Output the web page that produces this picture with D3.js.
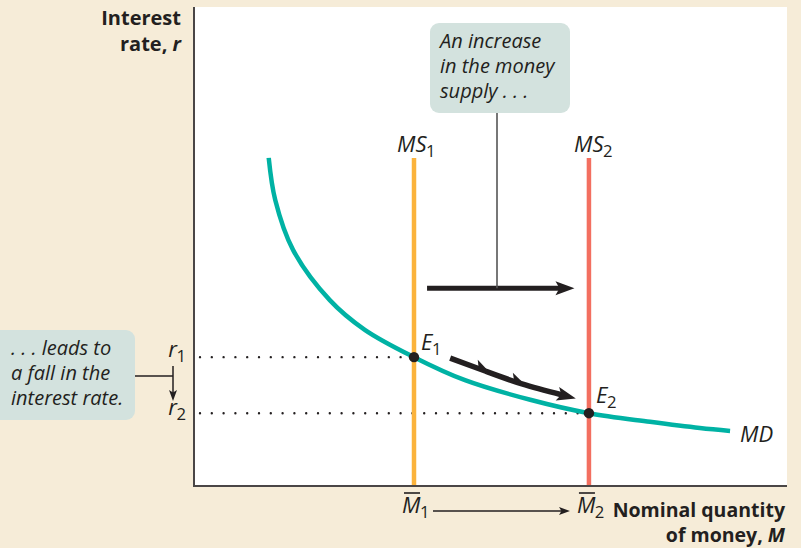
<!DOCTYPE html>
<html>
<head>
<meta charset="utf-8">
<script src="https://cdn.jsdelivr.net/npm/d3@7"></script>
<style>
  html, body { margin: 0; padding: 0; background: #f6ecd8; }
  svg { display: block; }
  text { font-family: "Open Sans", Lato, sans-serif; fill: #231f20; }
  .it { font-style: italic; }
  .bold { font-weight: bold; }
</style>
</head>
<body>
<svg id="chart" width="801" height="548"></svg>
<script>
// Money demand curve MD (nominal quantity of money, interest rate)
const mdQuantity = [1.26, 1.37, 1.67, 2.29, 2.88, 3.71, 4.57, 5.67, 6.66, 7.69, 8.53, 9.04];
const mdRate     = [6.85, 5.97, 4.93, 3.88, 3.26, 2.69, 2.21, 1.80, 1.52, 1.34, 1.21, 1.15];

// Money supply before and after the increase
const supplyNames = ["MS1", "MS2"];
const supplyQuantity = [3.71, 6.66];
const supplyTop = 6.85;

// Equilibrium interest rates
const rateNames = ["r1", "r2"];
const equilibriumRate = [2.69, 1.52];

const width = 801, height = 548;
const svg = d3.select("#chart");

const x = d3.scaleLinear().domain([0, 10]).range([194, 787]);
const y = d3.scaleLinear().domain([0, 10]).range([486, 7]);

const ink = "#231f20";
const tealBox = "#d3e2de";

// plotting panel
svg.append("rect")
  .attr("x", x(0)).attr("y", y(10))
  .attr("width", x(10) - x(0)).attr("height", y(0) - y(10))
  .attr("fill", "#ffffff");

// axes: plain lines, no ticks
svg.append("line").attr("x1", x(0)).attr("x2", x(0)).attr("y1", y(10)).attr("y2", y(0))
  .attr("stroke", "#4a4646").attr("stroke-width", 2);
svg.append("line").attr("x1", x(0) - 1).attr("x2", x(10)).attr("y1", y(0)).attr("y2", y(0))
  .attr("stroke", "#4a4646").attr("stroke-width", 2);

// arrowheads
const defs = svg.append("defs");
defs.append("marker").attr("id", "headBig")
  .attr("viewBox", "-2 -8 22 16").attr("refX", 5).attr("refY", 0)
  .attr("markerWidth", 22).attr("markerHeight", 16).attr("orient", "auto")
  .attr("markerUnits", "userSpaceOnUse")
  .append("path").attr("d", "M0,-7 L19,0 L0,7 L4,0 Z").attr("fill", ink);
defs.append("marker").attr("id", "headSmall")
  .attr("viewBox", "0 -5 12 10").attr("refX", 4).attr("refY", 0)
  .attr("markerWidth", 12).attr("markerHeight", 10).attr("orient", "auto")
  .attr("markerUnits", "userSpaceOnUse")
  .append("path").attr("d", "M0,-4 L11,0 L0,4 L2.5,0 Z").attr("fill", ink);

// dotted guides to the interest-rate axis
equilibriumRate.forEach((r, i) => {
  svg.append("line")
    .attr("x1", x(0) + 6).attr("x2", x(supplyQuantity[i]))
    .attr("y1", y(r)).attr("y2", y(r))
    .attr("stroke", ink).attr("stroke-width", 2.4)
    .attr("stroke-linecap", "round")
    .attr("stroke-dasharray", "0,11.8");
});

// money supply lines
const supplyColors = ["#fbb33c", "#f36f60"];
supplyQuantity.forEach((m, i) => {
  svg.append("line")
    .attr("x1", x(m)).attr("x2", x(m))
    .attr("y1", y(supplyTop)).attr("y2", y(0) - 1)
    .attr("stroke", supplyColors[i]).attr("stroke-width", 4.5);
});

// money demand curve
const mdPoints = mdQuantity.map((q, i) => [q, mdRate[i]]);
svg.append("path")
  .datum(mdPoints)
  .attr("d", d3.line().x(d => x(d[0])).y(d => y(d[1])).curve(d3.curveCatmullRom.alpha(0.5)))
  .attr("fill", "none").attr("stroke", "#00b2a4").attr("stroke-width", 4.5);

// equilibrium points
supplyQuantity.forEach((m, i) => {
  svg.append("circle").attr("cx", x(m)).attr("cy", y(equilibriumRate[i])).attr("r", 5.2).attr("fill", ink);
});

// italic symbol with a lowered subscript
function symbol(px, py, main, sub, anchor, size) {
  size = size || 22;
  const t = svg.append("text").attr("x", px).attr("y", py)
    .attr("text-anchor", anchor || "start").attr("font-size", size);
  t.append("tspan").attr("class", "it").text(main);
  if (sub) t.append("tspan").attr("font-size", size * 0.76).attr("dy", 5).attr("dx", -0.5).text(sub);
  return t;
}

// supply labels
symbol(397, 152, "MS", "1");
symbol(574, 152, "MS", "2");

// demand label
symbol(740, 442, "MD", null);

// equilibrium labels
symbol(421, 350, "E", "1");
symbol(596, 403, "E", "2");

// rate labels on the vertical axis
symbol(186, 357, "r", "1", "end");
symbol(186, 415, "r", "2", "end");

// quantity labels with overbars
supplyQuantity.forEach((m, i) => {
  const px = x(m) - 12, py = 513;
  symbol(px, py, "M", String(i + 1));
  svg.append("line").attr("x1", px + 2).attr("x2", px + 18)
    .attr("y1", py - 20).attr("y2", py - 20)
    .attr("stroke", ink).attr("stroke-width", 1.6);
});
svg.append("line")
  .attr("x1", x(supplyQuantity[0]) + 19).attr("x2", x(supplyQuantity[1]) - 26)
  .attr("y1", 511).attr("y2", 511)
  .attr("stroke", ink).attr("stroke-width", 1.5)
  .attr("marker-end", "url(#headSmall)");

// axis titles
const yTitle = svg.append("text").attr("class", "bold").attr("text-anchor", "end").attr("font-size", 20);
yTitle.append("tspan").attr("x", 181).attr("y", 25).text("Interest");
const yt2 = yTitle.append("tspan").attr("x", 181).attr("y", 51);
yt2.append("tspan").text("rate, ");
yt2.append("tspan").attr("class", "it").text("r");

const xTitle = svg.append("text").attr("class", "bold").attr("text-anchor", "end").attr("font-size", 19.5);
xTitle.append("tspan").attr("x", 785).attr("y", 517).text("Nominal quantity");
const xt2 = xTitle.append("tspan").attr("x", 785).attr("y", 542);
xt2.append("tspan").text("of money, ");
xt2.append("tspan").attr("class", "it").text("M");

// shift arrow between supply lines
const shiftY = 4.13;
svg.append("line")
  .attr("x1", x(3.93)).attr("x2", x(6.18))
  .attr("y1", y(shiftY)).attr("y2", y(shiftY))
  .attr("stroke", ink).attr("stroke-width", 5)
  .attr("marker-end", "url(#headBig)");

// annotation: increase in supply
svg.append("line").attr("x1", 497).attr("x2", 497).attr("y1", 112).attr("y2", y(shiftY))
  .attr("stroke", "#555").attr("stroke-width", 1.6);
svg.append("rect").attr("x", 430).attr("y", 23).attr("width", 140).attr("height", 90)
  .attr("rx", 9).attr("fill", tealBox);
const topNote = svg.append("text").attr("class", "it").attr("font-size", 20);
["An increase", "in the money", "supply . . ."].forEach((s, i) => {
  topNote.append("tspan").attr("x", 440).attr("y", 48 + i * 25).text(s);
});

// movement along MD from E1 to E2
const moveQ = [4.32, 4.91, 5.53, 6.21];
const moveR = [2.67, 2.40, 2.13, 1.90];
const movePts = moveQ.map((q, i) => [x(q), y(moveR[i])]);
const movePath = svg.append("path")
  .attr("d", d3.line().curve(d3.curveNatural)(movePts))
  .attr("fill", "none").attr("stroke", ink).attr("stroke-width", 5.5)
  .attr("marker-end", "url(#headBig)");
// feather barbs along the movement arrow
const node = movePath.node();
const total = node.getTotalLength();
[0.30, 0.62].forEach(f => {
  const p = node.getPointAtLength(total * f);
  const p2 = node.getPointAtLength(total * f + 1);
  const ang = Math.atan2(p2.y - p.y, p2.x - p.x) * 180 / Math.PI;
  svg.append("path")
    .attr("transform", `translate(${p.x},${p.y}) rotate(${ang})`)
    .attr("d", "M7,0 L-9,-8 L-5,0 Z")
    .attr("fill", ink);
});

// annotation: fall in the interest rate
svg.append("rect").attr("x", -10).attr("y", 330).attr("width", 145).attr("height", 90)
  .attr("rx", 9).attr("fill", tealBox);
const leftNote = svg.append("text").attr("class", "it").attr("font-size", 20);
[". . . leads to", "a fall in the", "interest rate."].forEach((s, i) => {
  leftNote.append("tspan").attr("x", 11).attr("y", 355 + i * 25).text(s);
});
svg.append("line").attr("x1", 135).attr("x2", 173).attr("y1", 376).attr("y2", 376)
  .attr("stroke", ink).attr("stroke-width", 1.5);
svg.append("line").attr("x1", 173).attr("x2", 173).attr("y1", 366).attr("y2", 394)
  .attr("stroke", ink).attr("stroke-width", 1.5)
  .attr("marker-end", "url(#headSmall)");
</script>
</body>
</html>
